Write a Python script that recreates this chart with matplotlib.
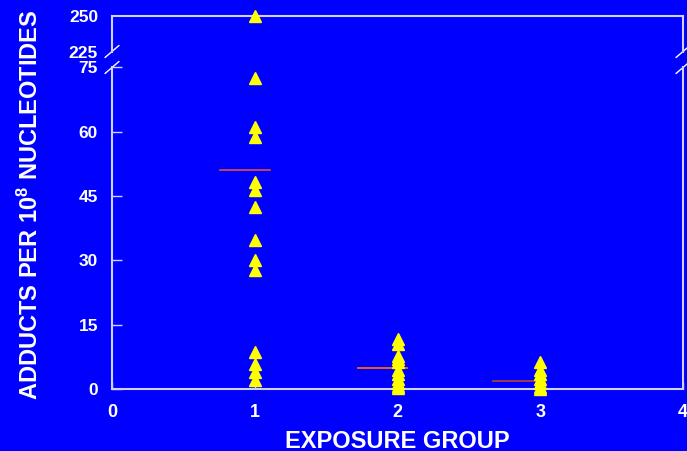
import matplotlib
matplotlib.use("Agg")
import matplotlib.pyplot as plt

# values
group1 = [250, 72.5, 61.2, 58.9, 48.2, 46.4, 42.4, 34.8, 30.1, 27.8, 8.6, 5.8, 3.9, 2.1]
group2 = [11.6, 10.6, 7.6, 7.0, 6.2, 4.5, 3.6, 2.4, 1.5, 0.6, 0.2]
group3 = [6.3, 4.5, 3.4, 2.4, 1.3, 0.5, 0.1]
groups = [1, 2, 3]
means = [51.0, 4.8, 1.9]
mean_start = [0.76, 1.72, 2.67]
mean_end = [1.11, 2.07, 3.03]
mean_colors = ["#d04848", "#ff6a00", "#a84040"]
xticks = [0, 1, 2, 3, 4]
low_yticks = [0, 15, 30, 45, 60, 75]
high_yticks = [225, 250]

BLUE = "#0000ff"
SPINE = "#d0d0ff"
plt.rcParams["font.family"] = ["Liberation Sans", "DejaVu Sans"]
plt.rcParams["font.weight"] = "bold"
plt.rcParams["mathtext.fontset"] = "custom"
plt.rcParams["mathtext.rm"] = "Liberation Sans:bold"
plt.rcParams["mathtext.it"] = "Liberation Sans:bold"
plt.rcParams["mathtext.bf"] = "Liberation Sans:bold"

fig = plt.figure(figsize=(6.87, 4.51), dpi=100, facecolor=BLUE)
ax_hi = fig.add_axes([112 / 687, 1 - 51.5 / 451, 571 / 687, 36 / 451], facecolor=BLUE)
ax_lo = fig.add_axes([112 / 687, 1 - 389 / 451, 571 / 687, 321.5 / 451], facecolor=BLUE)

for ax in (ax_hi, ax_lo):
    ax.set_xlim(0, 4)
    for s in ax.spines.values():
        s.set_color(SPINE)
        s.set_linewidth(1.5)
    ax.tick_params(colors="white", labelsize=13, direction="in", length=7,
                   width=1, color=SPINE, pad=10)
    ax.tick_params(axis="y", labelsize=12.5)
    for data, g in zip([group1, group2, group3], groups):
        ax.plot([g] * len(data), data, linestyle="none", marker="^",
                markersize=8, color="#ffff00", clip_on=False, zorder=5)
    for m, x0, x1, c in zip(means, mean_start, mean_end, mean_colors):
        ax.plot([x0, x1], [m, m], color=c, linewidth=1.3, zorder=4)

ax_hi.set_ylim(225, 250)
ax_hi.set_yticks(high_yticks)
ax_hi.set_xticks([])
ax_hi.spines["bottom"].set_visible(False)
ax_hi.tick_params(axis="y", length=0)

ax_lo.set_ylim(0, 75)
ax_lo.set_yticks(low_yticks)
ax_lo.set_xticks(xticks)
ax_lo.spines["top"].set_visible(False)
ax_lo.tick_params(axis="x", length=5, pad=11)

# break marks on both sides
d = 0.012
for ax, yy in ((ax_hi, 0), (ax_lo, 1)):
    ky = d * 687 / 451 * (321.5 / 36 if ax is ax_hi else 1)
    for xx in (0, 1):
        ax.plot([xx - d, xx + d], [yy - ky, yy + ky], transform=ax.transAxes,
                color="white", linewidth=1, clip_on=False)

fig.text(397 / 687, 1 - 441 / 451, "EXPOSURE GROUP", color="white", fontsize=17,
         fontweight="bold", ha="center", va="center")
fig.text(30 / 687, 1 - 205 / 451, "ADDUCTS PER 10$^{8}$ NUCLEOTIDES", color="white",
         fontsize=17, fontweight="bold", rotation=90, ha="center", va="center")

fig.savefig("out.png", dpi=100, facecolor=BLUE)
